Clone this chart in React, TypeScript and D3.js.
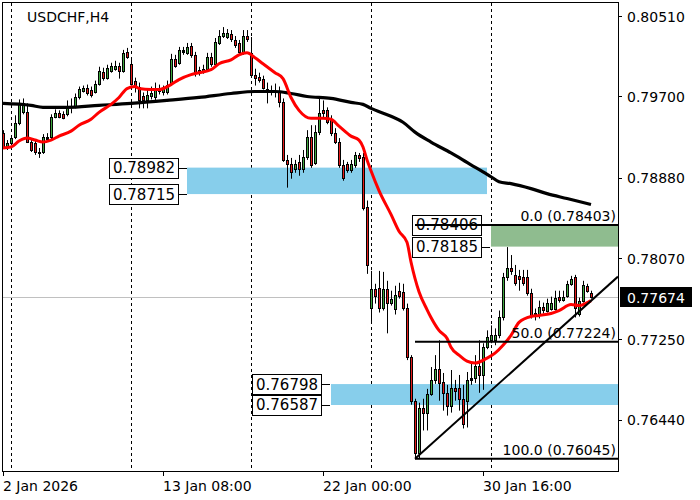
import React from 'react';
import * as d3 from 'd3';

const chartTitle = 'USDCHF,H4';

const opens = [
  0.7933,0.7919,0.7923,0.7929,0.7943,0.7954,0.7954,0.7924,0.7923,0.7914,
  0.7914,0.7927,0.7929,0.7949,0.7953,0.7952,0.7952,0.7959,0.7960,0.7969,
  0.7976,0.7979,0.7977,0.7975,0.7983,0.7995,0.7989,0.7996,0.7998,0.8001,
  0.7996,0.8015,0.8003,0.7986,0.7980,0.7970,0.7966,0.7970,0.7969,0.7976,
  0.7974,0.7974,0.7983,0.8008,0.8004,0.8015,0.8014,0.8021,0.8012,0.7997,
  0.7995,0.7998,0.8010,0.8003,0.8024,0.8031,0.8030,0.8033,0.8027,0.8024,
  0.8015,0.8031,0.8014,0.7992,0.7990,0.7988,0.7977,0.7976,0.7974,0.7976,
  0.7964,0.7906,0.7902,0.7897,0.7904,0.7897,0.7909,0.7929,0.7903,0.7934,
  0.7956,0.7956,0.7946,0.7933,0.7924,0.7901,0.7902,0.7896,0.7901,0.7911,
  0.7909,0.7858,0.7757,0.7776,0.7777,0.7757,0.7776,0.7762,0.7756,0.7774,
  0.7773,0.7757,0.7707,0.7663,0.7610,0.7656,0.7651,0.7670,0.7684,0.7695,
  0.7682,0.7671,0.7658,0.7676,0.7676,0.7665,0.7663,0.7684,0.7686,0.7698,
  0.7689,0.7717,0.7724,0.7724,0.7729,0.7747,0.7788,0.7797,0.7790,0.7789,
  0.7788,0.7788,0.7772,0.7749,0.7749,0.7758,0.7754,0.7756,0.7756,0.7768,
  0.7765,0.7769,0.7781,0.7788,0.7751,0.7764,0.7779,0.7772
];
const highs = [
  0.7936,0.7926,0.7930,0.7951,0.7967,0.7968,0.7963,0.7926,0.7926,0.7918,
  0.7932,0.7933,0.7952,0.7957,0.7956,0.7955,0.7966,0.7968,0.7973,0.7980,
  0.7981,0.7982,0.7980,0.7986,0.8000,0.7999,0.8002,0.8004,0.8006,0.8004,
  0.8017,0.8019,0.8009,0.7989,0.7984,0.7974,0.7978,0.7980,0.7984,0.7982,
  0.7981,0.7986,0.8013,0.8012,0.8020,0.8020,0.8024,0.8024,0.8015,0.8000,
  0.8002,0.8014,0.8014,0.8029,0.8037,0.8040,0.8038,0.8037,0.8031,0.8027,
  0.8037,0.8037,0.8030,0.7998,0.7994,0.7991,0.7984,0.7981,0.7983,0.7980,
  0.7968,0.7911,0.7908,0.7906,0.7911,0.7916,0.7936,0.7941,0.7941,0.7968,
  0.7966,0.7959,0.7951,0.7938,0.7928,0.7906,0.7904,0.7906,0.7914,0.7913,
  0.7913,0.7865,0.7794,0.7781,0.7794,0.7793,0.7784,0.7774,0.7779,0.7782,
  0.7781,0.7761,0.7709,0.7665,0.7661,0.7665,0.7675,0.7697,0.7709,0.7724,
  0.7691,0.7679,0.7694,0.7684,0.7689,0.7679,0.7692,0.7701,0.7709,0.7724,
  0.7721,0.7734,0.7739,0.7736,0.7754,0.7792,0.7818,0.7810,0.7800,0.7795,
  0.7795,0.7795,0.7776,0.7756,0.7764,0.7762,0.7766,0.7768,0.7774,0.7774,
  0.7774,0.7784,0.7789,0.7790,0.7767,0.7784,0.7781,0.7774
];
const lows = [
  0.7917,0.7916,0.7921,0.7927,0.7941,0.7952,0.7923,0.7914,0.7911,0.7908,
  0.7912,0.7925,0.7927,0.7948,0.7948,0.7947,0.7950,0.7953,0.7958,0.7967,
  0.7974,0.7971,0.7969,0.7973,0.7981,0.7986,0.7987,0.7994,0.7996,0.7988,
  0.7994,0.8008,0.7981,0.7974,0.7958,0.7958,0.7958,0.7967,0.7966,0.7972,
  0.7971,0.7972,0.7981,0.7999,0.8002,0.8012,0.8012,0.8009,0.7990,0.7991,
  0.7993,0.7996,0.8000,0.8001,0.8022,0.8029,0.8028,0.8025,0.8019,0.8012,
  0.8012,0.8025,0.7989,0.7981,0.7984,0.7977,0.7963,0.7971,0.7969,0.7959,
  0.7904,0.7878,0.7887,0.7893,0.7890,0.7893,0.7906,0.7898,0.7901,0.7931,
  0.7948,0.7942,0.7930,0.7922,0.7898,0.7885,0.7893,0.7893,0.7898,0.7904,
  0.7855,0.7791,0.7742,0.7761,0.7752,0.7754,0.7731,0.7759,0.7750,0.7766,
  0.7754,0.7704,0.7659,0.76045,0.7605,0.7633,0.7633,0.7668,0.7680,0.7663,
  0.7653,0.7648,0.7651,0.7663,0.7653,0.7635,0.7636,0.7679,0.7681,0.7671,
  0.7674,0.7715,0.7721,0.7719,0.7726,0.7744,0.7784,0.7790,0.7779,0.7774,
  0.7779,0.7769,0.7746,0.7744,0.7746,0.7751,0.7752,0.7754,0.7754,0.7762,
  0.7763,0.7767,0.7779,0.7747,0.7748,0.7762,0.7772,0.7766
];
const closes = [
  0.7919,0.7923,0.7928,0.7943,0.7963,0.7963,0.7924,0.7916,0.7914,0.7913,
  0.7929,0.7929,0.7949,0.7953,0.7949,0.7948,0.7959,0.7960,0.7969,0.7978,
  0.7979,0.7973,0.7971,0.7983,0.7996,0.7989,0.7999,0.8001,0.8001,0.7996,
  0.8014,0.8010,0.7983,0.7981,0.7966,0.7966,0.7971,0.7973,0.7978,0.7978,
  0.7978,0.7982,0.8008,0.8001,0.8017,0.8017,0.8020,0.8012,0.7994,0.7994,
  0.7998,0.8010,0.8003,0.8025,0.8031,0.8034,0.8034,0.8028,0.8022,0.8015,
  0.8031,0.8028,0.7992,0.7989,0.7987,0.7979,0.7978,0.7974,0.7976,0.7964,
  0.7906,0.7902,0.7894,0.7902,0.7897,0.7909,0.7929,0.7901,0.7934,0.7953,
  0.7953,0.7944,0.7933,0.7924,0.7901,0.7888,0.7896,0.7902,0.7911,0.7908,
  0.7857,0.7800,0.7776,0.7769,0.7757,0.7776,0.7762,0.7766,0.7770,0.7769,
  0.7757,0.7707,0.7663,0.7610,0.7656,0.7651,0.7670,0.7684,0.7695,0.7681,
  0.7671,0.7658,0.7676,0.7673,0.7665,0.7640,0.7684,0.7686,0.7698,0.7689,
  0.7717,0.7727,0.7729,0.7729,0.7747,0.7788,0.7797,0.7794,0.7782,0.7786,
  0.7782,0.7772,0.7749,0.7752,0.7758,0.7755,0.7762,0.7762,0.7767,0.7765,
  0.7768,0.7781,0.7786,0.7757,0.7764,0.7780,0.7774,0.77674
];

// Fast moving average (red) sampled at bar indices
const redMaBars = [0,2,4,6,8,10,12,14,17,19,22,24,27,29,31,33,34,37,39,42,44,47,49,52,54,57,59,61,63,65,68,70,72,74,77,80,82,84,87,89,90,91,92,94,97,99,101,102,104,106,107,109,111,112,114,116,118,121,123,125,127,129,132,134,137,139,142,144,147];
const redMaValues = [0.7918,0.7919,0.7925,0.7928,0.7926,0.7924,0.7926,0.7930,0.7935,0.7941,0.7947,0.7954,0.7962,0.7969,0.7978,0.7980,0.7978,0.7977,0.7977,0.7982,0.7987,0.7992,0.7994,0.7997,0.8003,0.8007,0.8012,0.8014,0.8009,0.8003,0.7994,0.7988,0.7969,0.7956,0.7948,0.7948,0.7947,0.7940,0.7930,0.7926,0.7919,0.7906,0.7895,0.7875,0.7851,0.7834,0.7823,0.7803,0.7773,0.7755,0.7747,0.7734,0.7726,0.7717,0.7709,0.7703,0.7701,0.7706,0.7711,0.7719,0.7729,0.7742,0.7748,0.7749,0.7751,0.7754,0.7760,0.7759,0.7764];

// Slow moving average (black)
const blackMaBars = [0,7,10,16,24,32,41,49,57,63,68,72,76,82,87,90,92,97,100,103,107,112,117,120,122,124,127,132,136,141,147];
const blackMaValues = [0.7963,0.7961,0.7959,0.7959,0.7961,0.7963,0.7966,0.7969,0.7973,0.7975,0.7975,0.7973,0.7970,0.7968,0.7964,0.7962,0.7958,0.7950,0.7944,0.7934,0.7924,0.7913,0.7901,0.7894,0.7889,0.7884,0.7882,0.7877,0.7872,0.7867,0.7861];

const priceTicks = [0.8051, 0.797, 0.7888, 0.7807, 0.7725, 0.7644];
const priceTickLabels = ['0.80510', '0.79700', '0.78880', '0.78070', '0.77250', '0.76440'];

const timeTickBars = [0, 40, 80, 120];
const timeTickLabels = ['2 Jan 2026', '13 Jan 08:00', '22 Jan 00:00', '30 Jan 16:00'];
const weekSeparatorBars = [2, 32, 62, 92, 122];

const zoneTop = [0.78982, 0.76798];
const zoneBottom = [0.78715, 0.76587];
const zoneStartBar = [46, 82];
const zoneEndBar = [121, 999];

const targetTop = 0.78406;
const targetBottom = 0.78185;
const targetStartBar = 122;

const fibLevels = ['0.0', '50.0', '100.0'];
const fibPrices = [0.78403, 0.77224, 0.76045];
const fibStartBar = 103;

const trendBars = [103, 147];
const trendPrices = [0.76045, 0.77638];

const lastPrice = 0.77674;

const L = 3, R = 618, T = 3, B = 471;
const FONT = 'DejaVu Sans';

export default function App() {
  const x = d3.scaleLinear().domain([0, 153.75]).range([L, R]);
  const y = d3.scaleLinear().domain([0.75921, 0.80643]).range([B, T]);
  const fmt = (v: number) => v.toFixed(5);

  const redLine = d3.line<number>().x((_, i) => x(redMaBars[i])).y((d) => y(d)).curve(d3.curveMonotoneX)(redMaValues) || '';
  const blackLine = d3.line<number>().x((_, i) => x(blackMaBars[i])).y((d) => y(d)).curve(d3.curveMonotoneX)(blackMaValues) || '';

  const tx1 = x(trendBars[0]), ty1 = y(trendPrices[0]);
  const tx2 = x(trendBars[1]), ty2 = y(trendPrices[1]);
  const slope = (ty2 - ty1) / (tx2 - tx1);
  const tyEnd = ty1 + slope * (R - tx1);

  const up = '#3ea63e';
  const dn = '#e31b1b';

  const labelBox = (price: number, rightX: number, key: string) => {
    const cy = y(price);
    const w = 69, h = 20;
    return (
      <g key={key}>
        <line x1={rightX} x2={rightX + 9} y1={Math.round(cy) + 0.5} y2={Math.round(cy) + 0.5} stroke="#000" />
        <rect x={rightX - w + 0.5} y={Math.round(cy - h / 2) + 0.5} width={w} height={h} fill="#fff" stroke="#000" />
        <text x={rightX - w + 4} y={cy + 5.5} fontSize={15} fontFamily={FONT} fill="#000">{fmt(price)}</text>
      </g>
    );
  };

  return (
    <svg width={700} height={500} style={{ position: 'absolute', left: 0, top: 0, background: '#fff' }}>
      <defs>
        <clipPath id="plot"><rect x={L} y={T} width={R - L} height={B - T} /></clipPath>
      </defs>
      <rect x={0} y={0} width={700} height={500} fill="#fff" />
      <g clipPath="url(#plot)">
        {weekSeparatorBars.map((b, i) => (
          <line key={'s' + i} x1={Math.round(x(b)) + 0.5} x2={Math.round(x(b)) + 0.5} y1={T} y2={B} stroke="#000" strokeDasharray="3,3" />
        ))}
        <line x1={L} x2={R} y1={Math.round(y(lastPrice)) + 0.5} y2={Math.round(y(lastPrice)) + 0.5} stroke="#c0c0c0" />
        {zoneTop.map((zt, i) => (
          <rect key={'z' + i} x={x(zoneStartBar[i])} y={y(zt)} width={Math.min(x(zoneEndBar[i]), R) - x(zoneStartBar[i])} height={y(zoneBottom[i]) - y(zt)} fill="#87ceeb" />
        ))}
        <rect x={x(targetStartBar)} y={y(targetTop)} width={R - x(targetStartBar)} height={y(targetBottom) - y(targetTop)} fill="#8fbc8f" />
        {opens.map((o, i) => {
          const c = closes[i];
          const cx = Math.round(x(i));
          const isUp = c >= o;
          const yT = Math.round(y(Math.max(o, c)));
          const yB = Math.round(y(Math.min(o, c)));
          const h = Math.max(1, yB - yT);
          return (
            <g key={'c' + i}>
              <line x1={cx + 0.5} x2={cx + 0.5} y1={y(highs[i])} y2={y(lows[i])} stroke="#000" />
              {h > 2 ? (
                <rect x={cx - 0.5} y={yT + 0.5} width={2} height={h} fill={isUp ? up : dn} stroke="#000" strokeWidth={1} />
              ) : (
                <rect x={cx - 1} y={yT} width={3} height={h + 1} fill="#000" />
              )}
            </g>
          );
        })}
        <path d={blackLine} fill="none" stroke="#000" strokeWidth={3.2} />
        <path d={redLine} fill="none" stroke="#ff0000" strokeWidth={3} />
        <line x1={tx1} y1={ty1} x2={R} y2={tyEnd} stroke="#000" strokeWidth={2} />
      </g>
      {labelBox(zoneTop[0], x(zoneStartBar[0]) - 9, 'l1')}
      {labelBox(zoneBottom[0], x(zoneStartBar[0]) - 9, 'l2')}
      {labelBox(zoneTop[1], x(zoneStartBar[1]) - 10, 'l3')}
      {labelBox(zoneBottom[1], x(zoneStartBar[1]) - 10, 'l4')}
      {labelBox(targetTop, x(targetStartBar) - 10, 'l5')}
      {labelBox(targetBottom, x(targetStartBar) - 10, 'l6')}
      {fibPrices.map((p, i) => (
        <g key={'f' + i}>
          <line x1={x(fibStartBar)} x2={R} y1={y(p)} y2={y(p)} stroke="#000" strokeWidth={2} />
          <text x={R - 2} y={y(p) - 4} textAnchor="end" fontSize={14} fontFamily={FONT} fill="#000">
            {fibLevels[i]} ({fmt(p)})
          </text>
        </g>
      ))}
      <text x={27} y={22} fontSize={14} fontFamily={FONT} fill="#000">{chartTitle}</text>
      <rect x={L - 0.5} y={T - 0.5} width={R - L + 1} height={B - T + 1} fill="none" stroke="#000" />
      {priceTicks.map((p, i) => (
        <g key={'pt' + i}>
          <line x1={R} x2={R + 4} y1={Math.round(y(p)) + 0.5} y2={Math.round(y(p)) + 0.5} stroke="#000" />
          <text x={627} y={y(p) + 5.5} fontSize={14} fontFamily={FONT} fill="#000">{priceTickLabels[i]}</text>
        </g>
      ))}
      <rect x={620} y={Math.round(y(lastPrice)) - 10} width={72} height={20} fill="#000" />
      <text x={627} y={y(lastPrice) + 5.5} fontSize={14} fontFamily={FONT} fill="#fff">{fmt(lastPrice)}</text>
      {timeTickBars.map((b, i) => (
        <g key={'tt' + i}>
          <line x1={Math.round(x(b)) + 0.5} x2={Math.round(x(b)) + 0.5} y1={B} y2={B + 5} stroke="#000" />
          <text x={x(b)} y={491} fontSize={14} fontFamily={FONT} fill="#000">{timeTickLabels[i]}</text>
        </g>
      ))}
    </svg>
  );
}
